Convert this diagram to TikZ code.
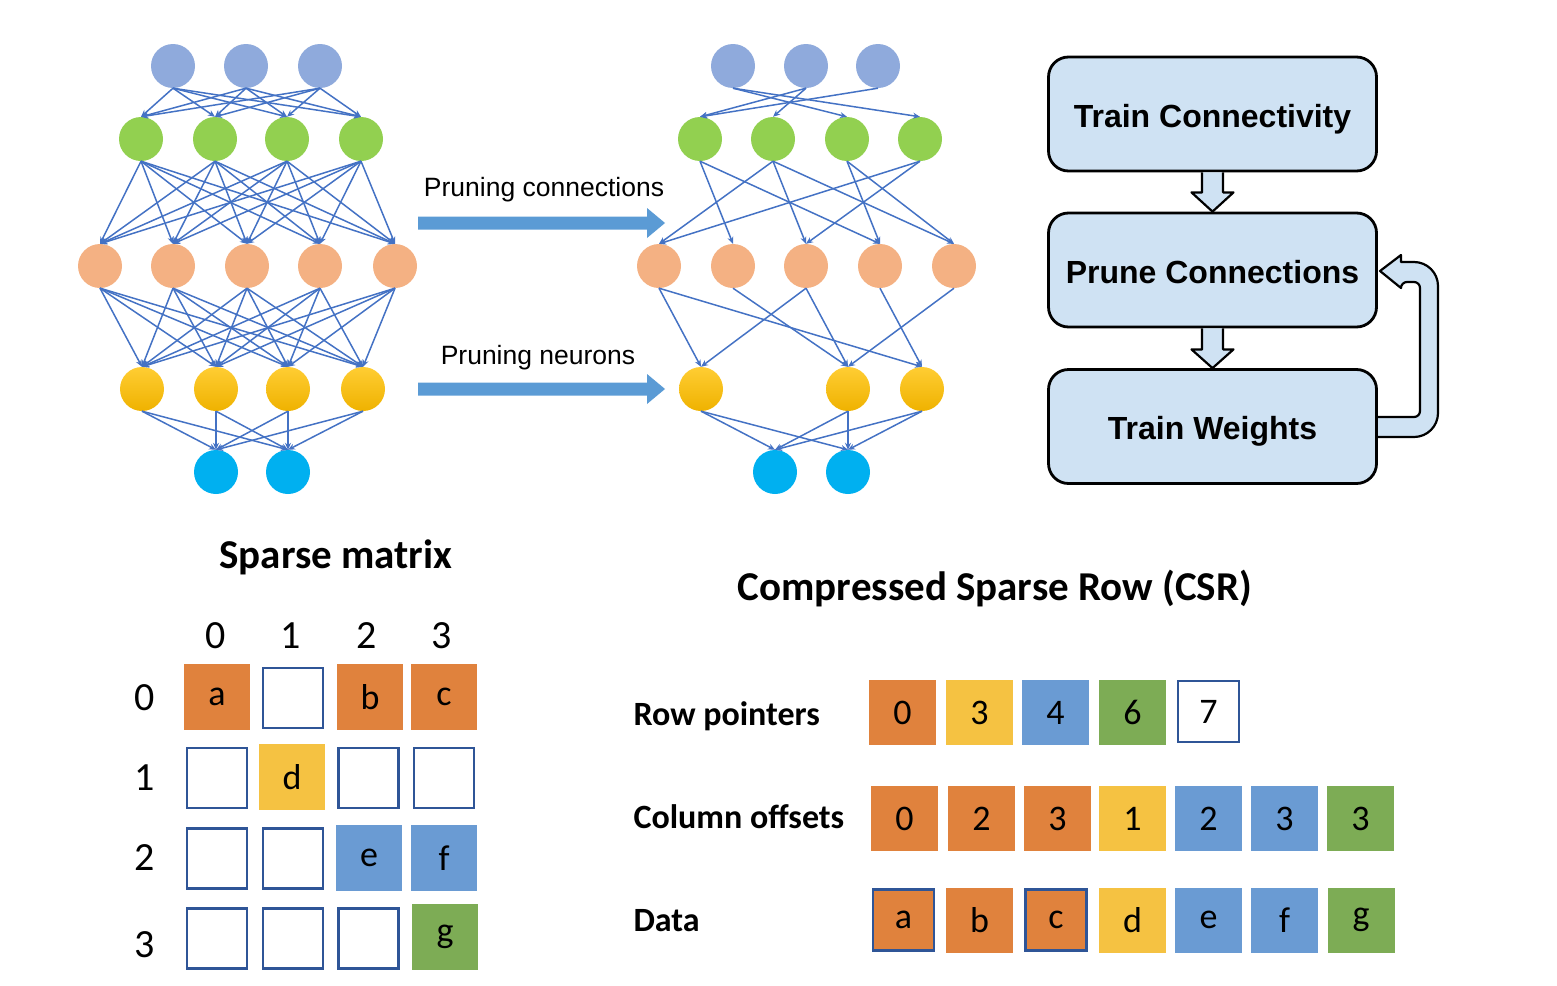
\documentclass[tikz,border=0pt]{standalone}
\usepackage{fontspec}
\setmainfont{Liberation Sans}
\newfontfamily\calibrifont{Carlito}
\usetikzlibrary{arrows.meta,calc}
\definecolor{cA}{HTML}{8FAADC}
\definecolor{cB}{HTML}{92D050}
\definecolor{cC}{HTML}{F4B183}
\definecolor{cDtop}{HTML}{FFCD33}
\definecolor{cDbot}{HTML}{EFB200}
\definecolor{cE}{HTML}{00B0F0}
\definecolor{cedge}{HTML}{4472C4}
\definecolor{cbig}{HTML}{5B9BD5}
\definecolor{cflow}{HTML}{CFE2F3}
\definecolor{corange}{HTML}{E0823D}
\definecolor{cyellow}{HTML}{F5C242}
\definecolor{cblue}{HTML}{6A9BD3}
\definecolor{cgreen}{HTML}{7DAC55}
\definecolor{cborder}{HTML}{2F5597}
\begin{document}
\begin{tikzpicture}[x=1pt,y=-1pt,
  neuron/.style={circle,minimum size=44pt,inner sep=0pt,draw=none},
  nA/.style={neuron,fill=cA},
  nB/.style={neuron,fill=cB},
  nC/.style={neuron,fill=cC},
  nD/.style={neuron,top color=cDtop,bottom color=cDbot},
  nE/.style={neuron,fill=cE},
  conn/.style={draw=cedge,line width=1.5pt,-{Stealth[length=7pt,width=6pt]}},
  bigarr/.style={fill=cbig},
  flowbox/.style={draw=black,line width=2.8pt,fill=cflow,rounded corners=20pt,minimum width=328pt,minimum height=114pt,inner sep=0pt,text height=28pt,text depth=2pt,font=\fontsize{32}{38}\selectfont\bfseries},
  flowarr/.style={draw=black,line width=2.2pt,fill=cflow,line join=round},
  lbl/.style={font=\fontsize{26.5}{30}\selectfont},
  ttl/.style={font=\calibrifont\bfseries\fontsize{41}{48}\selectfont},
  rowlbl/.style={anchor=west,font=\calibrifont\bfseries\fontsize{34}{40}\selectfont},
  idx/.style={font=\calibrifont\fontsize{40}{46}\selectfont},
  cempty/.style={draw=cborder,line width=2.5pt,fill=white,minimum width=60pt,minimum height=60pt,inner sep=0pt},
  cfull/.style={fill=#1,minimum width=66pt,minimum height=66pt,inner sep=0pt,font=\calibrifont\fontsize{36}{42}\selectfont},
  csr/.style={fill=#1,minimum width=67pt,minimum height=65pt,inner sep=0pt,font=\calibrifont\fontsize{36}{42}\selectfont},
  csrb/.style={fill=#1,draw=cborder,line width=2.5pt,minimum width=61pt,minimum height=61pt,inner sep=0pt,font=\calibrifont\fontsize{36}{42}\selectfont}
]
\useasboundingbox (0,0) rectangle (1557,985);

% ---------- left network ----------
\node[nA] (la1) at (173,66) {}; \node[nA] (la2) at (246,66) {}; \node[nA] (la3) at (320,66) {};
\node[nB] (lb1) at (141,139) {}; \node[nB] (lb2) at (215,139) {}; \node[nB] (lb3) at (287,139) {}; \node[nB] (lb4) at (361,139) {};
\node[nC] (lc1) at (100,266) {}; \node[nC] (lc2) at (173,266) {}; \node[nC] (lc3) at (247,266) {}; \node[nC] (lc4) at (320,266) {}; \node[nC] (lc5) at (395,266) {};
\node[nD] (ld1) at (142,389) {}; \node[nD] (ld2) at (216,389) {}; \node[nD] (ld3) at (288,389) {}; \node[nD] (ld4) at (363,389) {};
\node[nE] (le1) at (216,472) {}; \node[nE] (le2) at (288,472) {};

\foreach \i in {1,2,3} \foreach \j in {1,...,4} \draw[conn] (la\i.south) -- (lb\j.north);
\foreach \i in {1,...,4} \foreach \j in {1,...,5} \draw[conn] (lb\i.south) -- (lc\j.north);
\foreach \i in {1,...,5} \foreach \j in {1,...,4} \draw[conn] (lc\i.south) -- (ld\j.north);
\foreach \i in {1,...,4} \foreach \j in {1,2} \draw[conn] (ld\i.south) -- (le\j.north);

% ---------- right network ----------
\node[nA] (ra1) at (733,66) {}; \node[nA] (ra2) at (806,66) {}; \node[nA] (ra3) at (878,66) {};
\node[nB] (rb1) at (700,139) {}; \node[nB] (rb2) at (773,139) {}; \node[nB] (rb3) at (847,139) {}; \node[nB] (rb4) at (920,139) {};
\node[nC] (rc1) at (659,266) {}; \node[nC] (rc2) at (733,266) {}; \node[nC] (rc3) at (806,266) {}; \node[nC] (rc4) at (880,266) {}; \node[nC] (rc5) at (954,266) {};
\node[nD] (rd1) at (701,389) {}; \node[nD] (rd2) at (848,389) {}; \node[nD] (rd3) at (922,389) {};
\node[nE] (re1) at (775,472) {}; \node[nE] (re2) at (848,472) {};

\foreach \i/\j in {1/3,1/4,2/1,2/2,3/1} \draw[conn] (ra\i.south) -- (rb\j.north);
\foreach \i/\j in {1/2,1/4,2/1,2/3,2/5,3/4,3/5,4/1,4/3} \draw[conn] (rb\i.south) -- (rc\j.north);
\foreach \i/\j in {1/1,1/3,2/2,3/1,3/2,4/3,5/2} \draw[conn] (rc\i.south) -- (rd\j.north);
\foreach \i in {1,2,3} \foreach \j in {1,2} \draw[conn] (rd\i.south) -- (re\j.north);

% ---------- pruning arrows ----------
\node[lbl] (tpc) at (544,190) {Pruning connections};
\node[lbl] (tpn) at (538,358) {Pruning neurons};
\coordinate (pa1) at (418,223);
\coordinate (pa2) at (418,389);
\fill[bigarr] ($(pa1)+(0,-6.5)$) -- ++(229,0) -- ++(0,-8.5) -- ++(18,15) -- ++(-18,15) -- ++(0,-8.5) -- ++(-229,0) -- cycle;
\fill[bigarr] ($(pa2)+(0,-6.5)$) -- ++(229,0) -- ++(0,-8.5) -- ++(18,15) -- ++(-18,15) -- ++(0,-8.5) -- ++(-229,0) -- cycle;

% ---------- flowchart ----------
\filldraw[flowarr] (1378,417) [rounded corners=6pt] -- (1420,417) -- (1420,282) -- (1401,282) [sharp corners] -- (1401,288) -- (1380,271) -- (1401,255) -- (1401,262) [rounded corners=24pt] -- (1438,262) -- (1438,437) -- (1378,437);
\node[flowbox] (fb1) at (1212.5,114) {Train Connectivity};
\node[flowbox] (fb2) at (1212.5,270) {Prune Connections};
\node[flowbox] (fb3) at (1212.5,426.5) {Train Weights};
\filldraw[flowarr] ([xshift=-10.5pt]fb1.south) -- ([xshift=-10.5pt,yshift=-20pt]fb1.south) -- ([xshift=-21pt,yshift=-20pt]fb1.south) -- (fb2.north) -- ([xshift=21pt,yshift=-20pt]fb1.south) -- ([xshift=10.5pt,yshift=-20pt]fb1.south) -- ([xshift=10.5pt]fb1.south);
\filldraw[flowarr] ([xshift=-10.5pt]fb2.south) -- ([xshift=-10.5pt,yshift=-21pt]fb2.south) -- ([xshift=-21pt,yshift=-21pt]fb2.south) -- (fb3.north) -- ([xshift=21pt,yshift=-21pt]fb2.south) -- ([xshift=10.5pt,yshift=-21pt]fb2.south) -- ([xshift=10.5pt]fb2.south);

% ---------- sparse matrix ----------
\node[ttl] (tsm) at (336,557) {Sparse matrix};
\node[idx] (ch0) at (216,636) {0}; \node[idx] (ch1) at (291,636) {1}; \node[idx] (ch2) at (367,636) {2}; \node[idx] (ch3) at (442,636) {3};
\node[idx] (rh0) at (145,698) {0}; \node[idx] (rh1) at (145,778) {1}; \node[idx] (rh2) at (145,858) {2}; \node[idx] (rh3) at (145,945) {3};

\node[cfull=corange] (m00) at (217,697) {a};
\node[cempty] (m01) at (293,698) {};
\node[cfull=corange] (m02) at (370,697) {b};
\node[cfull=corange] (m03) at (444,697) {c};
\node[cempty] (m10) at (217,778) {};
\node[cfull=cyellow] (m11) at (292,777) {d};
\node[cempty] (m12) at (368.5,778) {};
\node[cempty] (m13) at (444,778) {};
\node[cempty] (m20) at (217,858.5) {};
\node[cempty] (m21) at (293,858.5) {};
\node[cfull=cblue] (m22) at (369,858) {e};
\node[cfull=cblue] (m23) at (444,858) {f};
\node[cempty] (m30) at (217,938.5) {};
\node[cempty] (m31) at (293,938.5) {};
\node[cempty] (m32) at (368.5,938.5) {};
\node[cfull=cgreen] (m33) at (445,937) {g};

% ---------- CSR ----------
\node[ttl] (tcsr) at (995,588) {Compressed Sparse Row (CSR)};
\node[rowlbl] (lrp) at (630,716) {Row pointers};
\node[rowlbl] (lco) at (630,817) {Column offsets};
\node[rowlbl] (ldt) at (630,921) {Data};

\node[csr=corange] (rp0) at (902.5,712.5) {0};
\node[csr=cyellow] (rp1) at (979.5,712.5) {3};
\node[csr=cblue]   (rp2) at (1055.5,712.5) {4};
\node[csr=cgreen]  (rp3) at (1132.5,712.5) {6};
\node[csrb=white]  (rp4) at (1208.5,711.5) {7};

\node[csr=corange] (co0) at (904.5,818.5) {0};
\node[csr=corange] (co1) at (981.5,818.5) {2};
\node[csr=corange] (co2) at (1057.5,818.5) {3};
\node[csr=cyellow] (co3) at (1132.5,818.5) {1};
\node[csr=cblue]   (co4) at (1208.5,818.5) {2};
\node[csr=cblue]   (co5) at (1284.5,818.5) {3};
\node[csr=cgreen]  (co6) at (1360.5,818.5) {3};

\node[csrb=corange] (dt0) at (903.5,920) {a};
\node[csr=corange]  (dt1) at (979.5,920) {b};
\node[csrb=corange] (dt2) at (1056,920) {c};
\node[csr=cyellow]  (dt3) at (1132.5,920) {d};
\node[csr=cblue]    (dt4) at (1208.5,920) {e};
\node[csr=cblue]    (dt5) at (1284.5,920) {f};
\node[csr=cgreen]   (dt6) at (1361,920) {g};
\end{tikzpicture}
\end{document}
